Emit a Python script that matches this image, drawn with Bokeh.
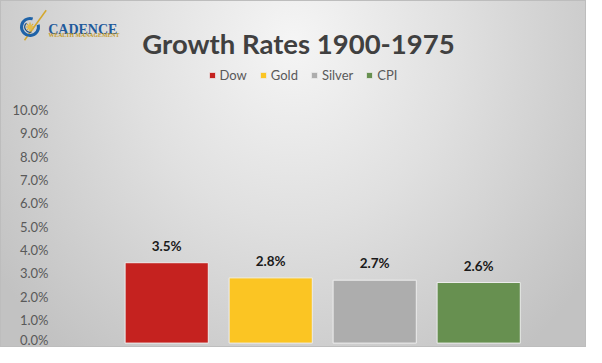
from bokeh.plotting import figure
from bokeh.models import (Range1d, FixedTicker, PrintfTickFormatter, Legend, LegendItem,
                          Label, InlineStyleSheet, ColumnDataSource)
from bokeh.core.properties import value
from bokeh.embed import file_html
from bokeh.resources import INLINE

# ---- data ----
series = ["Dow", "Gold", "Silver", "CPI"]
growth = [3.45, 2.8, 2.7, 2.6]
colors = ["#C5221F", "#FBC523", "#ADADAD", "#679050"]
y_ticks = [0, 1, 2, 3, 4, 5, 6, 7, 8, 9, 10]
title_text = "Growth Rates 1900-1975"

# ---- geometry (figure pixels) ----
W, H = 586, 347
X0_PX = 166.2      # centre of first bar
PX_PER_X = 104.0
Y0_PX = 342.6      # 0 %
PX_PER_Y = 23.3    # per 1 %


def dx(px):
    return (px - X0_PX) / PX_PER_X


def dy(py):
    return (Y0_PX - py) / PX_PER_Y


p = figure(width=W, height=H,
           x_range=Range1d(dx(0), dx(W)), y_range=Range1d(dy(H), dy(0)),
           output_backend="svg", toolbar_location=None,
           x_axis_location=None, y_axis_location="left", min_border=0)

p.background_fill_alpha = 0
p.border_fill_alpha = 0
p.outline_line_color = None
p.xgrid.visible = False
p.ygrid.visible = False

p.stylesheets = [InlineStyleSheet(css=""":host {
  background: radial-gradient(ellipse 62% 115% at 50% 12%, #f5f5f5 0%, #e0e0e0 45%, #c2c2c2 100%);
  box-shadow: inset 0 0 0 1px #bdbdbd;
}""")]

ax = p.yaxis[0]
ax.fixed_location = dx(56)
ax.ticker = FixedTicker(ticks=y_ticks)
ax.formatter = PrintfTickFormatter(format="%.1f%%")
ax.axis_line_color = None
ax.major_tick_line_color = None
ax.minor_tick_line_color = None
ax.major_tick_out = 0
ax.major_tick_in = 0
ax.major_label_standoff = 8
ax.major_label_text_font = "Lato"
ax.major_label_text_font_size = "13px"
ax.major_label_text_color = "#595959"

src = ColumnDataSource(dict(
    x=list(range(len(series))), top=growth, color=colors, name=series,
    label=[f"{v:.1f}%" for v in growth]))

bars = p.vbar(x="x", top="top", bottom=0, width=0.8, fill_color="color",
              line_color="#ededed", line_width=1, source=src)

p.text(x="x", y="top", text="label", y_offset=-17, text_align="center",
       text_baseline="middle", text_font=value("Lato"), text_font_style="bold",
       text_font_size="13.5px", text_color="#1a1a1a", source=src)

# ---- legend ----
legend = Legend(items=[LegendItem(label=s, renderers=[bars], index=i) for i, s in enumerate(series)],
                orientation="horizontal", location=(207.5, H - 76 - 7),
                glyph_width=8, glyph_height=8, label_standoff=4, spacing=12,
                padding=0, margin=0, border_line_color=None, background_fill_alpha=0,
                label_text_font="Lato", label_text_font_size="13px",
                label_text_color="#595959", label_height=14, label_width=10)
p.add_layout(legend)

# ---- title ----
p.add_layout(Label(x=dx(298), y=dy(43.3), text=title_text, text_align="center",
                   text_baseline="alphabetic", text_font="Lato", text_font_style="bold",
                   text_font_size="27.5px", text_color="#404040"))

# ---- logo ----
cx, cy = 29.5, 26.5
p.segment(x0=[dx(24)], y0=[dy(39.7)], x1=[dx(45.7)], y1=[dy(9.7)],
          line_color="#d4a72c", line_width=1.5)
p.arc(x=[dx(cx)], y=[dy(cy)], radius=8.5, radius_units="screen",
      start_angle=1.25, end_angle=6.55, line_color="#1f63a8", line_width=3)
p.arc(x=[dx(cx)], y=[dy(cy)], radius=5.2, radius_units="screen",
      start_angle=2.3, end_angle=5.0, line_color="#1b4f8a", line_width=1.2)
p.scatter(x=[dx(cx)], y=[dy(cy)], marker="asterisk", size=9, line_color="#d9ae38",
          line_width=1.2)
p.scatter(x=[dx(cx)], y=[dy(cy)], marker="circle", size=5, fill_color="#e6bd4a",
          line_color=None)
p.add_layout(Label(x=dx(47.7), y=dy(29.3), text="CADENCE", text_align="left",
                   text_baseline="alphabetic", text_font="Liberation Serif",
                   text_font_style="bold", text_font_size="14px", text_color="#1f5a9c"))
p.add_layout(Label(x=dx(48), y=dy(34.8), text="WEALTH MANAGEMENT", text_align="left",
                   text_baseline="alphabetic", text_font="Liberation Serif",
                   text_font_style="bold", text_font_size="5.8px", text_color="#c49b2a"))

open("out.html", "w").write(file_html(p, INLINE))
